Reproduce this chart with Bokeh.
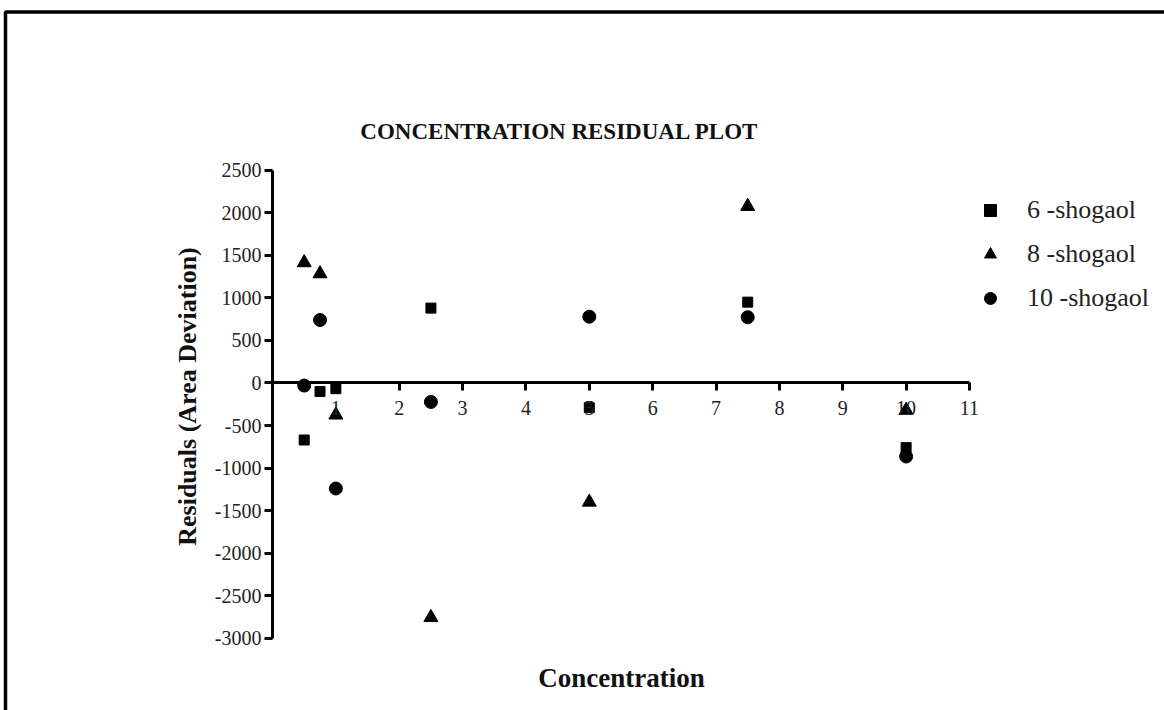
from math import pi
from bokeh.plotting import figure
from bokeh.models import (LinearAxis, FixedTicker, Range1d, Label, Legend,
                          LegendItem, BoxAnnotation)
from bokeh.embed import file_html
from bokeh.resources import INLINE

# ---------------- data ----------------
concentration = [0.5, 0.75, 1, 2.5, 5, 7.5, 10]
shogaol_6 = [-670, -100, -67, 880, -290, 950, -760]
shogaol_8 = [1414, 1284, -376, -2756, -1400, 2076, -320]
shogaol_10 = [-30, 740, -1240, -223, 779, 773, -864]
series_names = ["6 -shogaol", "8 -shogaol", "10 -shogaol"]

x_ticks = [1, 2, 3, 4, 5, 6, 7, 8, 9, 10, 11]
x_tick_labels = ["1", "2", "3", "4", "5", "6", "7", "8", "9", "10", "11"]
y_ticks = [-3000, -2500, -2000, -1500, -1000, -500, 0, 500, 1000, 1500, 2000, 2500]
y_tick_labels = ["-3000", "-2500", "-2000", "-1500", "-1000", "-500", "0",
                 "500", "1000", "1500", "2000", "2500"]

title_text = "CONCENTRATION RESIDUAL PLOT"
x_label = "Concentration"
y_label = "Residuals (Area Deviation)"

# ---------------- figure ----------------
W, H = 1164, 710
FONT = "Liberation Serif"

p = figure(width=W, height=H, output_backend="svg", toolbar_location=None,
           x_axis_type=None, y_axis_type=None,
           x_range=Range1d(-4.293, 14.078), y_range=Range1d(-3849, 4495),
           min_border=0, min_border_left=0, min_border_right=0,
           min_border_top=0, min_border_bottom=0)
p.grid.visible = False
p.outline_line_color = None
p.background_fill_color = "white"
p.border_fill_color = "white"

# axes crossing at zero
xaxis = LinearAxis(fixed_location=0, bounds=(0, 11),
                   ticker=FixedTicker(ticks=x_ticks),
                   major_label_overrides={t: l for t, l in zip(x_ticks, x_tick_labels)})
yaxis = LinearAxis(fixed_location=0, bounds=(-3000, 2500),
                   ticker=FixedTicker(ticks=y_ticks),
                   major_label_overrides={t: l for t, l in zip(y_ticks, y_tick_labels)})
for ax in (xaxis, yaxis):
    ax.axis_line_width = 3
    ax.axis_line_color = "black"
    ax.major_tick_line_width = 3
    ax.major_tick_line_color = "black"
    ax.major_tick_in = 0
    ax.major_tick_out = 8
    ax.minor_tick_in = 0
    ax.minor_tick_out = 0
    ax.major_label_text_font = FONT
    ax.major_label_text_font_size = "20px"
    ax.major_label_text_color = "#222222"
xaxis.major_label_standoff = 10
yaxis.major_label_standoff = 3
p.add_layout(xaxis, "below")
p.add_layout(yaxis, "left")

# ---------------- points ----------------
r6 = p.scatter(concentration, shogaol_6, marker="square", size=10,
               color="black")
r8 = p.scatter(concentration, shogaol_8, marker="triangle", size=14,
               color="black")
r10 = p.scatter(concentration, shogaol_10, marker="circle", size=13,
                color="black")

legend = Legend(items=[LegendItem(label=series_names[0], renderers=[r6]),
                       LegendItem(label=series_names[1], renderers=[r8]),
                       LegendItem(label=series_names[2], renderers=[r10])],
                location=(975, 397), orientation="vertical",
                border_line_alpha=0, background_fill_alpha=0,
                padding=0, margin=0, spacing=14,
                glyph_width=30, glyph_height=30, label_height=30,
                label_standoff=22, label_text_font=FONT,
                label_text_font_size="26px", label_text_color="#222222")
p.add_layout(legend)

# ---------------- texts ----------------
p.add_layout(Label(x=559, y=H - 131, x_units="screen", y_units="screen",
                   text=title_text, text_align="center", text_baseline="middle",
                   text_font=FONT, text_font_style="bold",
                   text_font_size="23px", text_color="#111111"))
p.add_layout(Label(x=621, y=H - 677, x_units="screen", y_units="screen",
                   text=x_label, text_align="center", text_baseline="middle",
                   text_font=FONT, text_font_style="bold",
                   text_font_size="27px", text_color="#111111"))
p.add_layout(Label(x=187, y=H - 396, x_units="screen", y_units="screen",
                   text=y_label, text_align="center", text_baseline="middle",
                   angle=pi / 2, text_font=FONT, text_font_style="bold",
                   text_font_size="26px", text_color="#111111"))

# outer frame (partly outside the window, as in the reference)
p.add_layout(BoxAnnotation(left=5, right=1400, top=11.5, bottom=900,
                           left_units="canvas", right_units="canvas",
                           top_units="canvas", bottom_units="canvas",
                           fill_alpha=0, line_color="black", line_alpha=1,
                           line_width=3.5))

open("out.html", "w").write(file_html(p, INLINE))
